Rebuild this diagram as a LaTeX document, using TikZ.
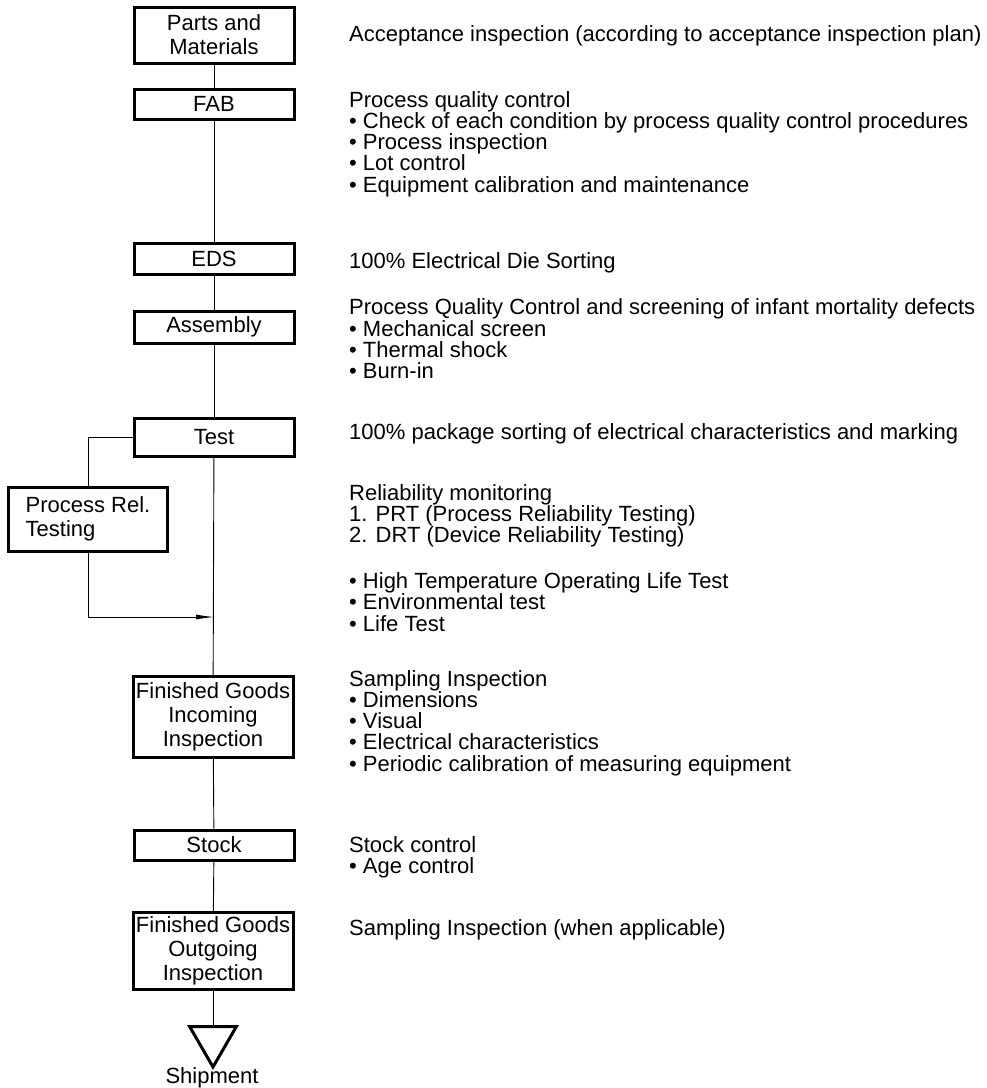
\documentclass[tikz,border=0pt]{standalone}
\usepackage{fontspec}
\setmainfont{Liberation Sans}
\usetikzlibrary{shapes.geometric,arrows.meta,positioning}

\tikzset{
  stage/.style={draw, line width=3pt, minimum width=160pt, inner sep=1pt,
    align=center, font=\fontsize{22}{24}\selectfont},
  note/.style={anchor=west, align=left, inner sep=0pt,
    font=\fontsize{22}{21.3}\selectfont},
  flow/.style={line width=0.9pt},
}

\begin{document}
\begin{tikzpicture}[x=1pt,y=-1pt]
    \useasboundingbox (0,0) rectangle (987,1088);
    % Flow stages
    \node[stage, minimum height=56] (parts) at (214,35) {Parts and\\Materials};
    \node[stage, minimum height=30] (fab) at (214,104) {FAB};
    \node[stage, minimum height=31] (eds) at (214,259) {EDS};
    \node[stage, minimum height=32] (asm) at (214,327) {Assembly};
    \node[stage, minimum height=38] (test) at (214,437) {Test};
    \node[stage, align=left, minimum width=159, minimum height=64] (prt) at (88,519) {Process Rel.\\Testing};
    \node[stage, minimum height=81] (fgi) at (213,717) {Finished Goods\\Incoming\\Inspection};
    \node[stage, minimum height=30] (stock) at (214,845) {Stock};
    \node[stage, minimum height=77] (fgo) at (213,951) {Finished Goods\\Outgoing\\Inspection};
    \node[draw, regular polygon, regular polygon sides=3, shape border rotate=180,
      line width=3pt, minimum size=54, inner sep=0pt] (ship) at (213,1040) {};
    \node[font=\fontsize{22}{24}\selectfont] (shiplabel) at (212,1078) {Shipment};
    % Main flow line
    \draw[flow] (parts) -- (fab);
    \draw[flow] (fab) -- (eds);
    \draw[flow] (eds) -- (asm);
    \draw[flow] (asm) -- (test);
    \draw[flow] (test) -- (fgi);
    \draw[flow] (fgi) -- (stock);
    \draw[flow] (stock) -- (fgo);
    \draw[flow] (fgo) -- (ship);
    % Reliability loop
    \coordinate (join) at (214,617);
    \draw[flow] (test.west) -| (prt.north);
    \draw[flow, -{Latex[length=18pt,width=5pt]}] (prt.south) |- (join);
    % Quality activities
    \node[note] (accept) at (349,36) {Acceptance inspection (according to acceptance inspection plan)};
    \node[note] (pqc) at (349,144) {Process quality control\\
      • Check of each condition by process quality control procedures\\
      • Process inspection\\
      • Lot control\\
      • Equipment calibration and maintenance};
    \node[note] (diesort) at (349,263) {100\% Electrical Die Sorting};
    \node[note] (screen) at (349,339) {Process Quality Control and screening of infant mortality defects\\
      • Mechanical screen\\
      • Thermal shock\\
      • Burn-in};
    \node[note] (pkgsort) at (349,434) {100\% package sorting of electrical characteristics and marking};
    \node[note] (relmon) at (349,516) {Reliability monitoring\\
      1. PRT (Process Reliability Testing)\\
      2. DRT (Device Reliability Testing)};
    \node[note] (lifetest) at (349,602) {• High Temperature Operating Life Test\\
      • Environmental test\\
      • Life Test};
    \node[note] (sampling) at (349,723) {Sampling Inspection\\
      • Dimensions\\
      • Visual\\
      • Electrical characteristics\\
      • Periodic calibration of measuring equipment};
    \node[note] (stockctl) at (349,857) {Stock control\\
      • Age control};
    \node[note] (outsamp) at (349,930) {Sampling Inspection (when applicable)};
\end{tikzpicture}
\end{document}
